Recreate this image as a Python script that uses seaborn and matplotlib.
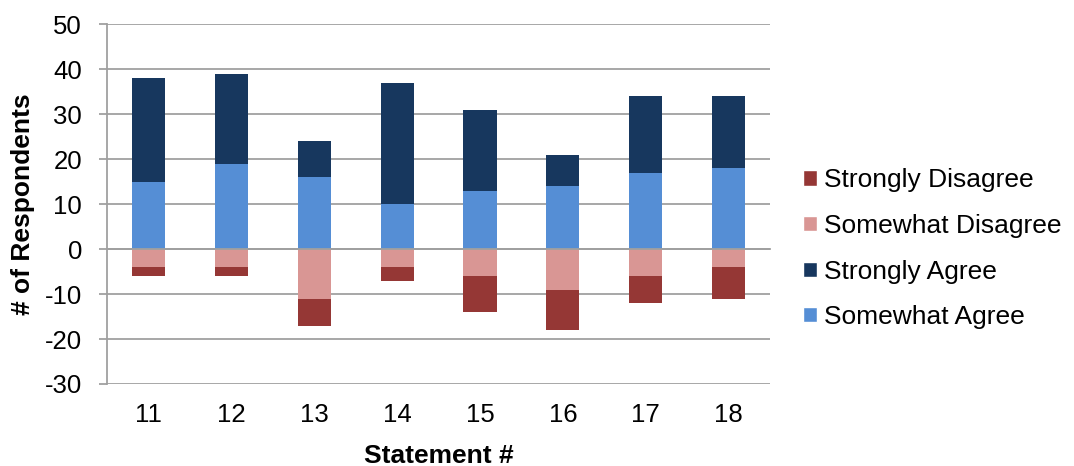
import pandas as pd
import seaborn as sns
import matplotlib.pyplot as plt
from matplotlib.patches import Patch

statements = ["11", "12", "13", "14", "15", "16", "17", "18"]
somewhat_agree = [15, 19, 16, 10, 13, 14, 17, 18]
strongly_agree = [23, 20, 8, 27, 18, 7, 17, 16]
somewhat_disagree = [4, 4, 11, 4, 6, 9, 6, 4]
strongly_disagree = [2, 2, 6, 3, 8, 9, 6, 7]

colors = {
    "Strongly Disagree": "#953735",
    "Somewhat Disagree": "#D99694",
    "Strongly Agree": "#17375E",
    "Somewhat Agree": "#558ED5",
}

df = pd.DataFrame({
    "statement": statements,
    "sa": somewhat_agree,
    "sta": strongly_agree,
    "sd": [-v for v in somewhat_disagree],
    "std": [-v for v in strongly_disagree],
})

sns.set_style("white", {"text.color": "black", "xtick.color": "black",
                        "ytick.color": "black", "axes.labelcolor": "black"})
plt.rcParams["font.family"] = ["Liberation Sans", "DejaVu Sans"]
plt.rcParams["axes.unicode_minus"] = False

fig = plt.figure(figsize=(10.74, 4.66), dpi=100)
ax = fig.add_axes([0.0996, 0.176, 0.6175, 0.772])

w = 0.4
kw = dict(width=w, ax=ax, saturation=1, zorder=3, linewidth=0)
sns.barplot(data=df, x="statement", y="sa", color=colors["Somewhat Agree"], **kw)
sns.barplot(data=df, x="statement", y="sta", bottom=df["sa"],
            color=colors["Strongly Agree"], **kw)
sns.barplot(data=df, x="statement", y="sd", color=colors["Somewhat Disagree"], **kw)
sns.barplot(data=df, x="statement", y="std", bottom=df["sd"],
            color=colors["Strongly Disagree"], **kw)

grid_c = "#A0A0A0"
ax.set_ylim(-30, 50)
ax.set_yticks(range(-30, 51, 10))
ax.set_xlim(-0.5, len(statements) - 0.5)
ax.yaxis.grid(True, color=grid_c, linewidth=1.3, zorder=0)
ax.set_axisbelow(True)

for s in ["top", "right"]:
    ax.spines[s].set_visible(False)
ax.spines["left"].set_color(grid_c)
ax.spines["left"].set_linewidth(1.3)
ax.spines["bottom"].set_position(("data", 0))
ax.spines["bottom"].set_color(grid_c)
ax.spines["bottom"].set_linewidth(1.3)
ax.spines["bottom"].set_zorder(4)

ax.set_xticks([i - 0.5 for i in range(len(statements) + 1)], minor=True)
ax.tick_params(axis="x", which="minor", length=6, width=1.3, color=grid_c, direction="out")
ax.tick_params(axis="x", which="major", length=0, pad=111, labelsize=18.5, labelcolor="black")
ax.tick_params(axis="y", length=6, width=1.3, color=grid_c, labelsize=18.5, pad=12,
               left=True, labelcolor="black")

ax.set_xlabel("Statement #", fontsize=19, fontweight="bold", labelpad=12, color="black")
ax.set_ylabel("# of Respondents", fontsize=19, fontweight="bold", labelpad=7, color="black")

handles = [Patch(facecolor=colors[k], label=k) for k in
           ["Strongly Disagree", "Somewhat Disagree", "Strongly Agree", "Somewhat Agree"]]
leg = fig.legend(handles=handles, loc="center left", bbox_to_anchor=(0.748, 0.466),
                 frameon=False, fontsize=19, handlelength=0.5, handleheight=0.5,
                 handletextpad=0.3, labelspacing=0.82, borderaxespad=0, borderpad=0)
for t in leg.get_texts():
    t.set_color("black")

fig.savefig("out.png", dpi=100)
